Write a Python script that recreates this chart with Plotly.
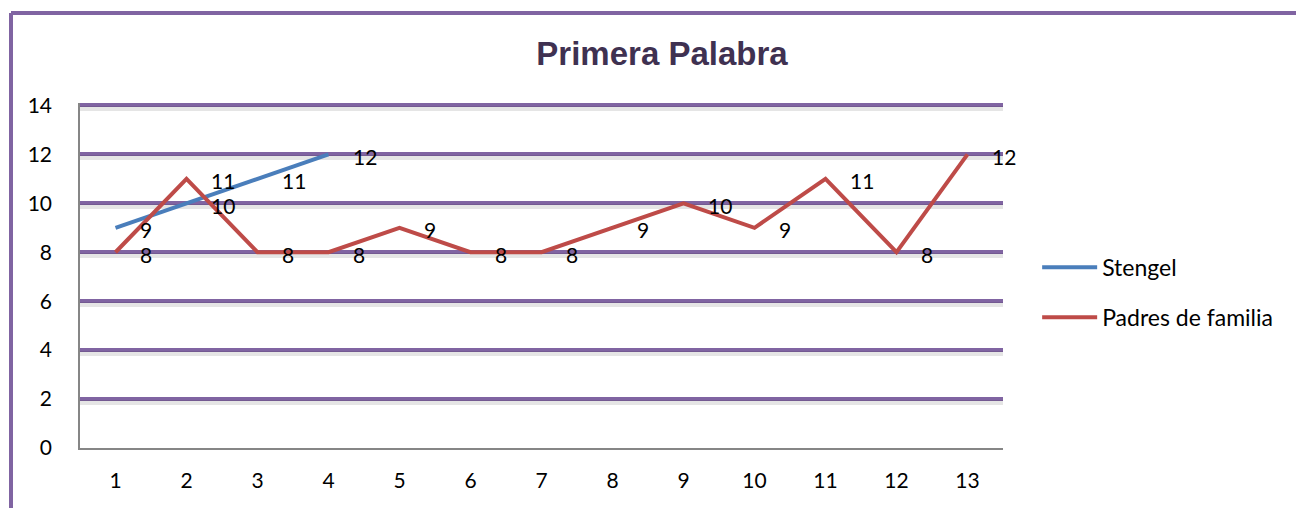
import plotly.graph_objects as go

categories = [1, 2, 3, 4, 5, 6, 7, 8, 9, 10, 11, 12, 13]
stengel = [9, 10, 11, 12]
padres = [8, 11, 8, 8, 9, 8, 8, 9, 10, 9, 11, 8, 12]
y_ticks = [0, 2, 4, 6, 8, 10, 12, 14]

PURPLE = "#8064A2"
BLUE = "#4A7EBB"
RED = "#BE4B48"
FONT = "Lato, Open Sans, sans-serif"

# figure sits 8px inside page (body margin)
W, H = 1296, 500
L, R, T, B = 72, 301, 95, 60
PW, PH = W - L - R, H - T - B
Y_TOP = 14.1
SHADOW = 3.0 * Y_TOP / PH  # ~3px offset in data units

fig = go.Figure()
fig.add_trace(go.Scatter(x=categories[:len(stengel)], y=stengel, mode="lines",
                         name="Stengel", line=dict(color=BLUE, width=4),
                         legendgroup="a"))
fig.add_trace(go.Scatter(x=categories, y=padres, mode="lines",
                         name="Padres de familia", line=dict(color=RED, width=4),
                         legendgroup="b"))
# invisible trace on overlay axis that carries the gridline shadows
fig.add_trace(go.Scatter(x=[categories[0]], y=[padres[0]], yaxis="y2", mode="lines",
                         line=dict(width=0), showlegend=False, hoverinfo="skip"))

annotations = []
for series in (stengel, padres):
    for xv, yv in zip(categories, series):
        annotations.append(dict(x=xv, y=yv, text=str(yv), showarrow=False,
                                xanchor="left", yanchor="middle", xshift=22, yshift=-2,
                                font=dict(size=21, color="black", family=FONT)))

bx = (3 - L) / PW
by = 1 + (T - 5) / PH
fig.update_layout(
    width=W, height=H,
    margin=dict(l=L, r=R, t=T, b=B),
    paper_bgcolor="white", plot_bgcolor="white",
    title=dict(text="<b>Primera Palabra</b>", x=(654 / W), xanchor="center",
               y=1 - 45 / H, yanchor="middle",
               font=dict(family="Liberation Sans, Arial", size=33, color="#3F3151")),
    xaxis=dict(range=[0.5, 13.5], tickmode="array", tickvals=categories,
               ticktext=[str(c) for c in categories], showgrid=False,
               showline=True, linecolor="#868686", linewidth=1.5,
               ticks="", ticklabelstandoff=13,
               tickfont=dict(size=21, color="black", family=FONT), zeroline=False),
    yaxis=dict(range=[0, Y_TOP], tickmode="array", tickvals=y_ticks,
               showgrid=True, gridcolor=PURPLE, gridwidth=4,
               showline=True, linecolor="#868686", linewidth=1.5,
               ticks="", ticklabelstandoff=22, zeroline=False,
               tickfont=dict(size=21, color="black", family=FONT)),
    yaxis2=dict(range=[SHADOW, Y_TOP + SHADOW], overlaying="y", tickmode="array",
                tickvals=y_ticks, showgrid=True, gridcolor="rgba(0,0,0,0.10)",
                gridwidth=5, showticklabels=False, showline=False, zeroline=False,
                ticks=""),
    legend=dict(x=1.037, y=0.451, xanchor="left", yanchor="middle",
                font=dict(size=23, color="black", family=FONT), itemwidth=55,
                tracegroupgap=17, traceorder="grouped", bgcolor="rgba(0,0,0,0)"),
    annotations=annotations,
    shapes=[
        dict(type="line", xref="paper", yref="paper", x0=bx, x1=1.5, y0=by, y1=by,
             line=dict(color=PURPLE, width=4)),
        dict(type="line", xref="paper", yref="paper", x0=bx, x1=bx, y0=-0.5, y1=by,
             line=dict(color=PURPLE, width=4)),
    ],
)

fig.write_html("out.html")
